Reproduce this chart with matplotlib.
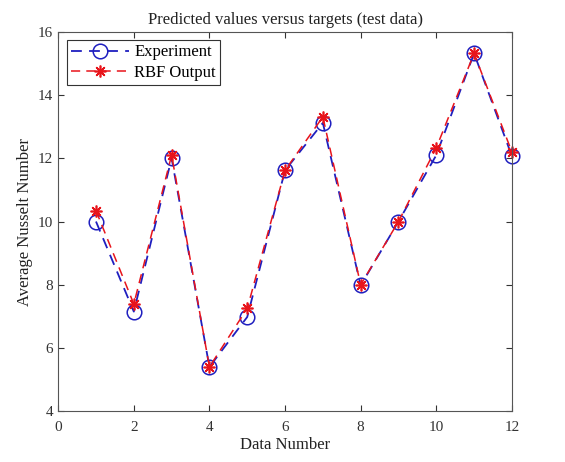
import matplotlib
matplotlib.use("Agg")
import matplotlib.pyplot as plt

plt.rcParams["font.family"] = ["Liberation Serif", "DejaVu Serif"]

data_number = [1, 2, 3, 4, 5, 6, 7, 8, 9, 10, 11, 12]
experiment = [10.0, 7.15, 12.0, 5.4, 6.98, 11.62, 13.12, 7.98, 10.0, 12.1, 15.32, 12.07]
rbf_output = [10.34, 7.39, 12.1, 5.4, 7.25, 11.62, 13.31, 8.0, 10.0, 12.33, 15.32, 12.2]

fig = plt.figure(figsize=(5.65, 4.62), dpi=100)
ax = fig.add_axes([0.103, 0.110, 0.803, 0.821])

ax.plot(data_number, experiment, color="#1f1fbf", linestyle=(0, (6, 4)), linewidth=1.3,
        marker="o", markersize=10.5, markerfacecolor="none", markeredgewidth=1.1,
        label="Experiment", clip_on=False)
ax.plot(data_number, rbf_output, color="#e8141b", linestyle=(0, (6, 4)), linewidth=1.1,
        marker=(8, 2, 0), markersize=8.5, markeredgewidth=1.2, label="RBF Output",
        clip_on=False)

ax.set_xlim(0, 12)
ax.set_ylim(4, 16)
ax.set_xticks(range(0, 13, 2))
ax.set_yticks(range(4, 17, 2))
ax.tick_params(direction="in", top=True, right=True, labelsize=11, colors="#333333",
               length=4, width=0.8)
ax.tick_params(axis="x", pad=7)
for s in ax.spines.values():
    s.set_color("#555555")
    s.set_linewidth(0.8)

ax.set_xlabel("Data Number", fontsize=12, color="#222222", labelpad=2)
ax.set_ylabel("Average Nusselt Number", fontsize=12, color="#222222")
ax.set_title("Predicted values versus targets (test data)", fontsize=12, color="#222222")

leg = ax.legend(loc="upper left", fontsize=12, fancybox=False, edgecolor="#333333",
                borderpad=0.25, handlelength=3.5, handletextpad=0.3, labelspacing=0.25,
                borderaxespad=0.5, framealpha=1)
leg.get_frame().set_linewidth(0.8)

fig.savefig("out.png", dpi=100)
